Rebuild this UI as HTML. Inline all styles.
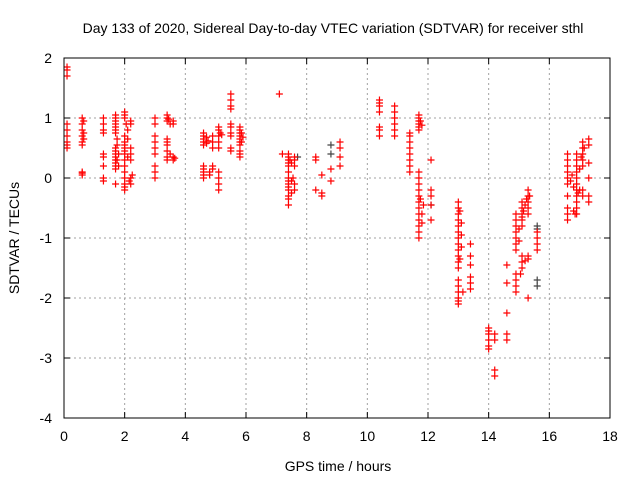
<!DOCTYPE html>
<html><head><meta charset="utf-8"><style>
body{margin:0;background:#fff}
svg{display:block;font-family:"Liberation Sans",sans-serif}
</style></head><body>
<svg id="c" width="640" height="480">
<text x="333" y="33" font-size="14" text-anchor="middle">Day 133 of 2020, Sidereal Day-to-day VTEC variation (SDTVAR) for receiver sthl</text>
<text x="338" y="471" font-size="14" text-anchor="middle">GPS time / hours</text>
<text transform="translate(19,238) rotate(-90)" font-size="14" text-anchor="middle">SDTVAR / TECUs</text>
<g id="grid"></g><g id="ticks"></g><g id="pts"></g>
<rect x="64" y="58" width="546" height="360" fill="none" stroke="#000"/>
</svg>
<script>
const xTicks=[0,2,4,6,8,10,12,14,16,18];
const yTicks=[2,1,0,-1,-2,-3,-4];
const redX=[0.1,0.1,0.1,0.1,0.1,0.1,0.1,0.1,0.1,
0.6,0.6,0.6,0.6,0.6,0.6,0.6,0.6,0.6,
1.3,1.3,1.3,1.3,1.3,1.3,1.3,1.3,1.3,
1.7,1.7,1.7,1.7,1.7,1.7,1.7,1.7,1.7,1.7,1.7,1.7,1.7,1.7,1.7,1.7,
2.0,2.0,2.0,2.0,2.0,2.0,2.0,2.0,2.0,2.0,2.0,2.0,2.0,2.0,2.0,2.0,
2.2,2.2,2.2,2.2,2.2,2.2,2.2,
3.0,3.0,3.0,3.0,3.0,3.0,3.0,3.0,3.0,
3.4,3.4,3.4,3.4,3.4,3.4,3.4,3.4,3.4,
3.6,3.6,3.6,3.6,
4.6,4.6,4.6,4.6,4.6,4.6,4.6,4.6,4.6,4.6,
4.9,4.9,4.9,4.9,4.9,
5.1,5.1,5.1,5.1,5.1,5.1,5.1,5.1,5.1,
5.5,5.5,5.5,5.5,5.5,5.5,5.5,5.5,5.5,5.5,
5.8,5.8,5.8,5.8,5.8,5.8,5.8,5.8,5.8,5.8,
7.1,7.2,
7.4,7.4,7.4,7.4,7.4,7.4,7.4,7.4,7.4,7.4,7.4,7.4,7.4,7.4,
7.6,7.6,7.6,7.6,7.6,
8.3,8.3,8.3,8.5,8.5,8.5,8.8,8.8,9.1,9.1,9.1,9.1,
10.4,10.4,10.4,10.4,10.4,10.4,10.4,
10.9,10.9,10.9,10.9,10.9,10.9,
11.4,11.4,11.4,11.4,11.4,11.4,11.4,11.4,
11.7,11.7,11.7,11.7,11.7,11.7,11.7,11.7,11.7,11.7,11.7,11.7,11.7,11.7,11.7,11.7,11.7,11.7,
12.1,12.1,12.1,12.1,12.1,
13.0,13.0,13.0,13.0,13.0,13.0,13.0,13.0,13.0,13.0,13.0,13.0,13.0,13.0,13.0,13.0,13.0,13.0,
13.4,13.4,13.4,13.4,13.4,13.4,
14.0,14.0,14.0,14.0,14.0,14.0,
14.2,14.2,14.2,14.2,
14.6,14.6,14.6,14.6,14.6,
14.9,14.9,14.9,14.9,14.9,14.9,14.9,14.9,14.9,14.9,14.9,
15.1,15.1,15.1,15.1,15.1,15.1,15.1,15.1,
15.3,15.3,15.3,15.3,15.3,15.3,15.3,15.3,
15.6,15.6,15.6,15.6,
16.6,16.6,16.6,16.6,16.6,16.6,16.6,16.6,16.6,16.6,
16.9,16.9,16.9,16.9,16.9,16.9,16.9,16.9,16.9,16.9,16.9,
17.1,17.1,17.1,17.1,17.1,17.1,17.1,
17.3,17.3,17.3,17.3,17.3,17.3];
const redY=[1.85,1.8,1.7,0.9,0.8,0.7,0.6,0.55,0.5,
1.0,0.9,0.8,0.7,0.6,0.55,0.1,0.05,0.08,
1.0,0.9,0.8,0.75,0.4,0.35,0.2,0.0,-0.05,
1.05,1.0,0.95,0.9,0.85,0.8,0.75,0.5,0.45,0.4,0.35,0.3,0.25,0.2,0.15,-0.1,
1.1,1.05,1.0,0.7,0.6,0.55,0.5,0.45,0.4,0.3,0.2,0.1,0.0,-0.1,-0.15,-0.2,
0.95,0.9,0.5,0.4,0.3,0.0,-0.1,
1.0,0.9,0.7,0.6,0.5,0.4,0.2,0.1,0.0,
1.05,1.0,0.95,0.65,0.6,0.55,0.45,0.35,0.3,
0.95,0.9,0.35,0.3,
0.75,0.7,0.65,0.6,0.55,0.2,0.15,0.1,0.05,0.0,
0.7,0.6,0.5,0.2,0.15,
0.85,0.8,0.7,0.6,0.5,0.1,0.0,-0.1,-0.2,
1.4,1.3,1.2,1.15,0.9,0.85,0.75,0.7,0.5,0.45,
0.85,0.8,0.75,0.7,0.65,0.6,0.55,0.45,0.4,0.35,
1.4,0.4,
0.4,0.35,0.3,0.25,0.2,0.1,0.0,-0.05,-0.1,-0.15,-0.2,-0.3,-0.35,-0.45,
0.35,0.3,0.2,-0.1,-0.2,
0.35,0.3,-0.2,0.05,-0.25,-0.3,0.15,-0.05,0.6,0.5,0.35,0.2,
1.3,1.25,1.2,1.1,0.85,0.8,0.7,
1.2,1.1,1.0,0.9,0.8,0.7,
0.75,0.7,0.6,0.5,0.4,0.3,0.2,0.1,
1.05,1.0,0.95,0.9,0.85,0.8,0.1,0.0,-0.1,-0.2,-0.3,-0.4,-0.5,-0.6,-0.7,-0.8,-0.9,-1.0,
0.3,-0.2,-0.3,-0.45,-0.7,
-0.4,-0.5,-0.6,-0.7,-0.8,-0.9,-1.0,-1.1,-1.2,-1.3,-1.4,-1.5,-1.7,-1.8,-1.9,-2.0,-2.05,-2.1,
-1.1,-1.3,-1.45,-1.65,-1.75,-1.85,
-2.5,-2.55,-2.6,-2.7,-2.8,-2.85,
-2.6,-2.7,-3.2,-3.3,
-1.45,-1.75,-2.25,-2.6,-2.7,
-0.6,-0.7,-0.8,-0.9,-1.0,-1.1,-1.2,-1.6,-1.7,-1.8,-1.9,
-0.4,-0.5,-0.6,-0.7,-0.8,-1.3,-1.4,-1.5,
-0.2,-0.3,-0.4,-0.5,-0.6,-1.3,-1.35,-2.0,
-0.9,-1.0,-1.1,-1.2,
0.4,0.3,0.2,0.1,0.0,-0.1,-0.3,-0.5,-0.6,-0.7,
0.4,0.3,0.2,0.1,0.0,-0.1,-0.2,-0.3,-0.4,-0.5,-0.6,
0.6,0.5,0.4,0.3,0.2,-0.2,-0.3,
0.65,0.55,0.25,0.0,-0.3,-0.4];
/* additional observations filling out the denser clusters */
const red2X=[0.65,0.65,0.65,1.75,1.75,1.75,1.8,1.8,2.05,2.1,2.1,2.1,2.15,2.25,
3.45,3.5,3.5,3.65,4.7,4.7,4.75,4.8,4.8,5.15,5.2,5.85,5.85,5.9,
7.45,7.5,7.5,7.55,7.5,11.75,11.8,11.8,11.8,11.85,11.75,
13.05,13.1,13.1,13.1,13.05,13.15,15.0,15.0,15.05,15.1,15.15,15.2,15.25,15.35,15.2,
16.7,16.75,16.8,16.8,16.85,16.95,17.0,17.0,17.05,17.15];
const red2Y=[0.95,0.75,0.65,0.65,0.55,0.3,0.4,0.2,0.9,0.8,0.65,0.35,-0.05,0.05,
0.98,0.9,0.4,0.33,0.68,0.58,0.62,0.1,0.05,0.75,0.72,0.75,0.6,0.68,
0.3,0.25,-0.05,0.0,-0.25,0.95,0.88,-0.6,-0.75,-0.45,-0.35,
-0.55,-0.75,-0.95,-1.15,-1.35,-1.9,-0.85,-1.05,-1.6,-0.65,-0.55,-0.45,-0.35,-0.3,-1.38,
-0.05,0.05,-0.15,-0.55,-0.6,-0.25,0.15,-0.2,0.35,0.5];
const blackX=[8.8,8.8,15.6,15.6,15.6,15.6,7.7,12.1];
const blackY=[0.55,0.4,-0.8,-0.85,-1.7,-1.8,0.35,-0.45];
const X0=64,X1=610,Y0=58,Y1=418;
const xs=h=>X0+(h-0)/18*(X1-X0);
const ys=v=>Y0+(2-v)/6*(Y1-Y0);
const NS="http://www.w3.org/2000/svg";
function mk(t,a,p){const e=document.createElementNS(NS,t);for(const k in a)e.setAttribute(k,a[k]);p.appendChild(e);return e;}
const grid=document.getElementById('grid'),ticks=document.getElementById('ticks'),pts=document.getElementById('pts');
xTicks.forEach(t=>{const x=xs(t);
 if(t>0&&t<18){const g=mk('line',{x1:x,x2:x,y1:Y0,y2:Y1,stroke:'#a0a0a0','stroke-dasharray':'2,3'},grid);
 
 }
 mk('line',{x1:x,x2:x,y1:Y1,y2:Y1-6,stroke:'#000'},ticks);
 mk('line',{x1:x,x2:x,y1:Y0,y2:Y0+6,stroke:'#000'},ticks);
 const l=mk('text',{x:x,y:Y1+23,'font-size':14,'text-anchor':'middle'},ticks);l.textContent=t;
 
 });
yTicks.forEach(t=>{const y=ys(t);
 if(t<2&&t>-4){const g=mk('line',{x1:X0,x2:X1,y1:y,y2:y,stroke:'#a0a0a0','stroke-dasharray':'2,3'},grid);
 
 }
 mk('line',{x1:X0,x2:X0+6,y1:y,y2:y,stroke:'#000'},ticks);
 mk('line',{x1:X1,x2:X1-6,y1:y,y2:y,stroke:'#000'},ticks);
 const l=mk('text',{x:X0-12,y:y+5,'font-size':14,'text-anchor':'end'},ticks);l.textContent=t;
 
 });
function plus(h,v,c){const x=xs(h),y=ys(v);
 const p=mk('path',{d:`M${x-3.5},${y}H${x+3.5}M${x},${y-3.5}V${y+3.5}`,stroke:c,'stroke-width':1.2,fill:'none'},pts);
 
 }
blackX.forEach((h,i)=>plus(h,blackY[i],'#444'));
redX.forEach((h,i)=>plus(h,redY[i],'#ff0000'));
red2X.forEach((h,i)=>plus(h,red2Y[i],'#ff0000'));
</script>
</body></html>
